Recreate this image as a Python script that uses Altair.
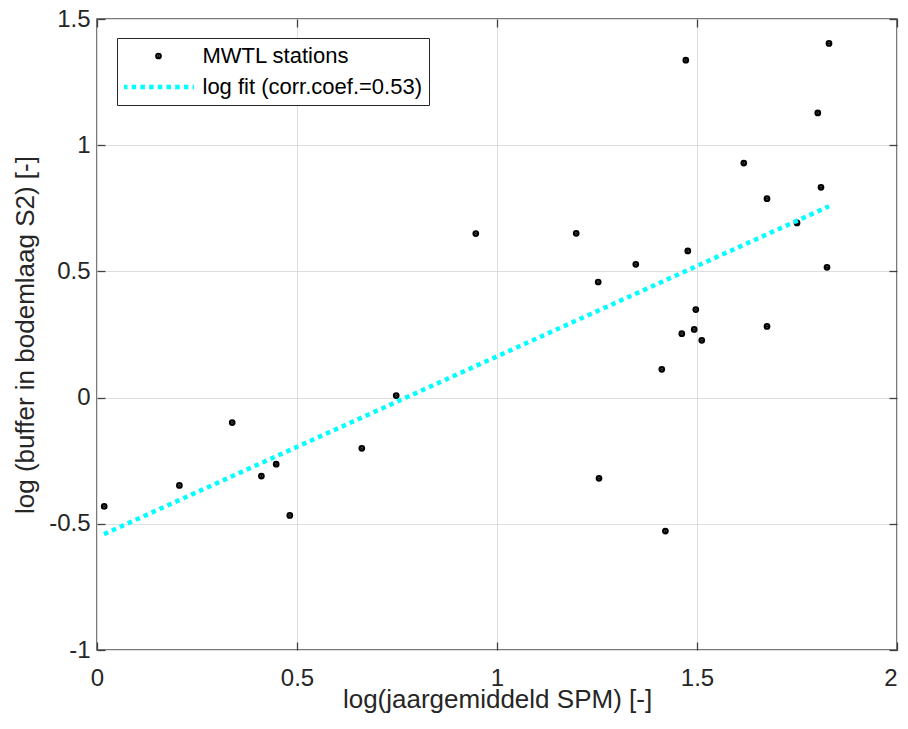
import altair as alt
import pandas as pd

series_names = ["MWTL stations", "log fit (corr.coef.=0.53)"]

station_x = [0.947, 1.472, 1.830, 1.802, 1.617, 1.810, 1.675, 1.750, 1.198, 1.477,
             1.347, 1.253, 1.825, 1.497, 1.462, 1.493, 1.512, 1.675, 1.412, 1.255,
             1.421, 0.018, 0.206, 0.338, 0.411, 0.448, 0.482, 0.662, 0.748]
station_y = [0.650, 1.337, 1.403, 1.128, 0.929, 0.833, 0.788, 0.692, 0.651, 0.581,
             0.528, 0.458, 0.516, 0.349, 0.253, 0.270, 0.227, 0.282, 0.112, -0.320,
             -0.529, -0.431, -0.348, -0.099, -0.311, -0.264, -0.467, -0.201, 0.008]

fit_x = [0.0175, 1.830]
fit_y = [-0.541, 0.758]

x_ticks = [0, 0.5, 1, 1.5, 2]
y_ticks = [-1, -0.5, 0, 0.5, 1, 1.5]

stations = pd.DataFrame({"x": station_x, "y": station_y, "series": series_names[0]})
fit = pd.DataFrame({"x": fit_x, "y": fit_y, "series": series_names[1]})

FONT = "Liberation Sans"
TXT = "#262626"
CYAN = "#00FFFF"
TICK = "#404040"
is_first = f"datum.value === '{series_names[0]}'"


def make_legend():
    return alt.Legend(
        title=None,
        orient="none",
        legendX=20,
        legendY=19,
        direction="vertical",
        fillColor="white",
        strokeColor="#262626",
        padding=7,
        labelFont=FONT,
        labelFontSize=22,
        labelColor="#000000",
        labelLimit=0,
        labelOffset=6,
        symbolOffset=-3.5,
        rowPadding=9,
        clipHeight=22,
        symbolStrokeWidth=4.5,
        symbolDash={"expr": f"{is_first} ? [50, 0] : [4.5, 4.2]"},
        symbolOpacity=1,
    )


color = alt.Color(
    "series:N",
    scale=alt.Scale(domain=series_names, range=["#000000", CYAN]),
    legend=make_legend(),
)
shape = alt.Shape(
    "series:N",
    scale=alt.Scale(domain=series_names, range=["circle", "stroke"]),
    legend=make_legend(),
)
size = alt.Size(
    "series:N",
    scale=alt.Scale(type="point", padding=0, domain=series_names, range=[5, 5041]),
    legend=make_legend(),
)

x_scale = alt.Scale(domain=[0, 2], nice=False, zero=False)
y_scale = alt.Scale(domain=[-1, 1.5], nice=False, zero=False)


def tick_axis(orient):
    return alt.Axis(
        orient=orient,
        values=x_ticks if orient in ("top", "bottom") else y_ticks,
        offset=-8,
        ticks=True,
        tickSize=8,
        tickColor=TICK,
        tickWidth=1.3,
        labels=False,
        grid=False,
        domain=False,
        title=None,
    )


x_main = alt.X(
    "x:Q",
    scale=x_scale,
    axis=alt.Axis(
        orient="bottom",
        values=x_ticks,
        title="log(jaargemiddeld SPM) [-]",
        labelExpr="datum.value + ''",
        labelFlush=False,
        labelAlign=alt.ConditionalAxisLabelAlign(
            condition={"test": f"datum.value >= {x_ticks[-1]}", "value": "right"},
            value="center",
        ),
        titleX=400,
        titleY=49,
        titleBaseline="middle",
        labelPadding=16,
        grid=True,
        ticks=False,
        tickSize=0,
    ),
)
y_main = alt.Y(
    "y:Q",
    scale=y_scale,
    axis=alt.Axis(
        orient="left",
        values=y_ticks,
        title="log (buffer in bodemlaag S2) [-]",
        labelExpr="datum.value + ''",
        labelFlush=False,
        titleX=-72,
        titleY=315.5,
        titleBaseline="middle",
        titleAngle=270,
        labelPadding=7,
        grid=True,
        ticks=False,
        tickSize=0,
    ),
)

points = alt.Chart(stations).mark_point(
    filled=True, opacity=1, stroke="#000000", strokeWidth=4.5
).encode(x=x_main, y=y_main, color=color, shape=shape, size=size)

line = alt.Chart(fit).mark_line(
    strokeWidth=4.5, strokeDash=[4.5, 4.2], strokeCap="butt", opacity=1
).encode(
    x=alt.X("x:Q", scale=x_scale, axis=tick_axis("top")),
    y=alt.Y("y:Q", scale=y_scale, axis=tick_axis("right")),
    color=alt.Color("series:N"),
)

tick_layer = alt.Chart(fit).mark_point(opacity=0, size=1).encode(
    x=alt.X("x:Q", scale=x_scale, axis=tick_axis("bottom")),
    y=alt.Y("y:Q", scale=y_scale, axis=tick_axis("left")),
)

chart = (
    alt.layer(points, line, tick_layer)
    .resolve_axis(x="independent", y="independent")
    .properties(
        width=800,
        height=631,
        autosize=alt.AutoSizeParams(type="none"),
        padding={"left": 89, "top": 11, "right": 3, "bottom": 70},
        background="white",
    )
    .configure_view(stroke="#4d4d4d", strokeWidth=1.5)
    .configure_axis(
        gridColor="#dedede",
        gridWidth=1,
        domain=False,
        labelFont=FONT,
        labelFontSize=24,
        labelColor=TXT,
        titleFont=FONT,
        titleFontSize=26,
        titleColor=TXT,
        titleFontWeight="normal",
    )
)

chart.save("out.html", embed_options={"renderer": "svg", "actions": False})
